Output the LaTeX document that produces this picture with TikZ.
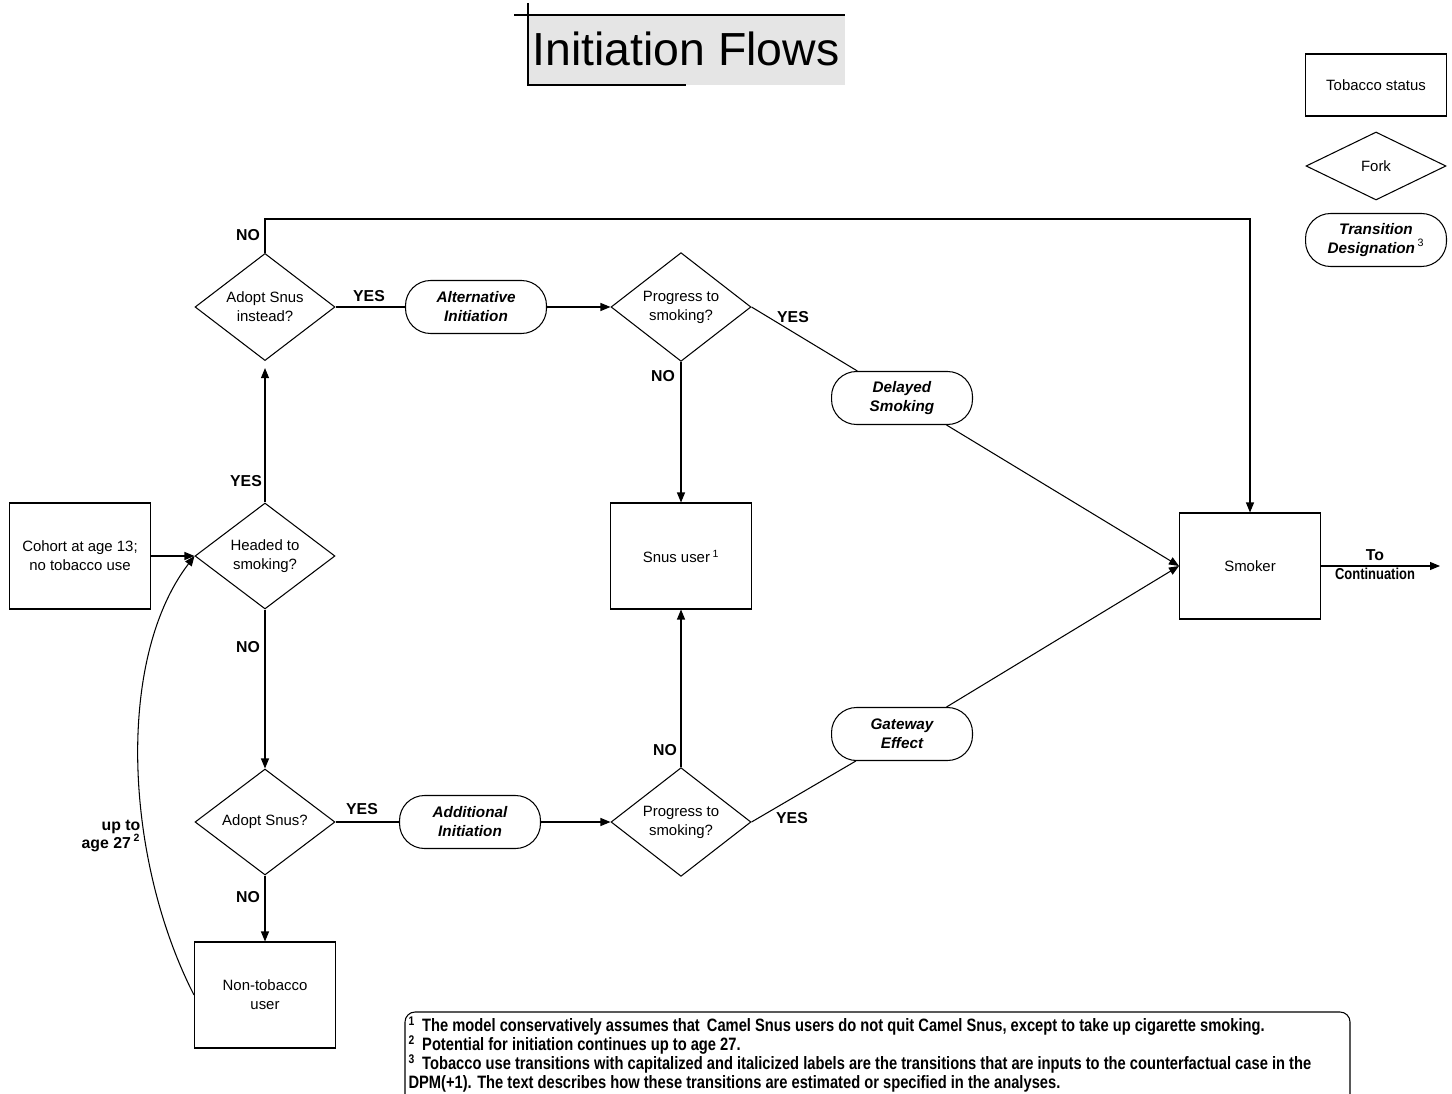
\documentclass[tikz,border=0pt]{standalone}
\usepackage{fontspec}
\setmainfont{Liberation Sans}
\newfontfamily\narrowfont[FakeStretch=0.82]{Liberation Sans}
\usetikzlibrary{shapes.geometric,arrows.meta}

\begin{document}
\begin{tikzpicture}[x=0.02cm,y=-0.02cm,line width=0.6pt,
    font=\fontsize{8.5}{10.8}\selectfont,
    status/.style={draw,rectangle,minimum width=2.82cm,minimum height=2.12cm,align=center},
    fork/.style={draw,diamond,minimum width=2.8cm,minimum height=2.12cm,inner sep=0pt,align=center},
    transition/.style={draw,rectangle,rounded corners=0.5cm,minimum width=2.82cm,minimum height=1.06cm,
        align=center,font=\fontsize{8.7}{10.8}\selectfont\bfseries\itshape},
    answer/.style={font=\fontsize{9}{10}\selectfont\bfseries,inner sep=0pt},
    flow/.style={-{Triangle[length=2mm,width=1.6mm]}}]
\useasboundingbox (0,0) rectangle (1452,1094);
%The title sits in a grey box with a few loose edges
\fill[black!10] (528,15) rectangle (845,85);
\draw (514,15) -- (845,15);
\draw (528,3) -- (528,85) -- (686,85);
\node (title) at (686,49) {\fontsize{26.4}{30}\selectfont Initiation Flows};
%Legend in the upper right corner
\node[status,minimum height=1.24cm] (keystatus) at (1376,85) {Tobacco status};
\node[fork,minimum height=1.36cm] (keyfork) at (1376,166) {Fork};
\node[transition] (keytrans) at (1376,240) {Transition\\Designation\,{\normalfont\textsuperscript{3}}};
%Tobacco states (boxes)
\node[status] (cohort) at (80,556) {Cohort at age 13;\\no tobacco use};
\node[status] (snus) at (681,556) {Snus user\,\textsuperscript{1}};
\node[status] (smoker) at (1250,566) {Smoker};
\node[status] (nontob) at (265,995) {Non-tobacco\\user};
%Forks (diamonds)
\node[fork] (headed) at (265,556) {Headed to\\smoking?};
\node[fork] (adoptalt) at (265,307) {Adopt Snus\\instead?};
\node[fork] (adopt) at (265,822) {Adopt Snus?};
\node[fork] (progtop) at (681,307) {Progress to\\smoking?};
\node[fork] (progbot) at (681,822) {Progress to\\smoking?};
%Transition designations (rounded boxes)
\node[transition] (altinit) at (476,307) {Alternative\\Initiation};
\node[transition] (addinit) at (470,822) {Additional\\Initiation};
\node[transition] (delayed) at (902,398) {Delayed\\Smoking};
\node[transition] (gateway) at (902,734) {Gateway\\Effect};
%Connectors between the named nodes
\draw[flow] (cohort) -- (headed);
\draw[flow,shorten >=0.14cm] (headed) -- (adoptalt);
\draw[flow] (headed) -- (adopt);
\draw[flow] (adoptalt.north) |- (1250,219) -- (smoker.north);
\draw (adoptalt) -- (altinit);
\draw[flow] (altinit) -- (progtop);
\draw (progtop.east) -- (delayed);
\draw[flow] (delayed) -- (smoker.west);
\draw[flow] (progtop) -- (snus);
\draw (adopt) -- (addinit);
\draw[flow] (addinit) -- (progbot);
\draw[flow] (progbot) -- (snus);
\draw (progbot.east) -- (gateway);
\draw[flow] (gateway) -- (smoker.west);
\draw[flow] (adopt) -- (nontob);
\draw[flow] (nontob.west) .. controls (125,860) and (115,660) .. (headed.west);
\coordinate (cont) at (1440,566);
\draw[flow] (smoker) -- (cont);
%YES / NO labels on the branches
\node[answer] (yes1) at (246,481) {YES};
\node[answer] (no1) at (248,647) {NO};
\node[answer] (no2) at (248,235) {NO};
\node[answer] (yes2) at (369,296) {YES};
\node[answer] (yes3) at (793,317) {YES};
\node[answer] (no3) at (663,376) {NO};
\node[answer] (yes4) at (362,809) {YES};
\node[answer] (no4) at (665,750) {NO};
\node[answer] (yes5) at (792,818) {YES};
\node[answer] (no5) at (248,897) {NO};
\node[answer,align=right] (upto) at (111,836) {up to\\age 27\,\textsuperscript{2}};
\node[answer] (to) at (1375,555) {To};
\node[answer] (tocont) at (1375,574) {\narrowfont Continuation};
%Footnotes in a rounded box cut off by the page edge
\draw[rounded corners=0.2cm] (405,1100) -- (405,1012) -- (1350,1012) -- (1350,1100);
\node[anchor=north west,align=left,inner sep=0pt,
    font=\fontsize{10.2}{10.8}\selectfont\narrowfont\bfseries] (notes) at (408,1016) {%
\textsuperscript{1}\, The model conservatively assumes that\, Camel Snus users do not quit Camel Snus, except to take up cigarette smoking.\\
\textsuperscript{2}\, Potential for initiation continues up to age 27.\\
\textsuperscript{3}\, Tobacco use transitions with capitalized and italicized labels are the transitions that are inputs to the counterfactual case in the\\
DPM(+1). The text describes how these transitions are estimated or specified in the analyses.};
\end{tikzpicture}
\end{document}
